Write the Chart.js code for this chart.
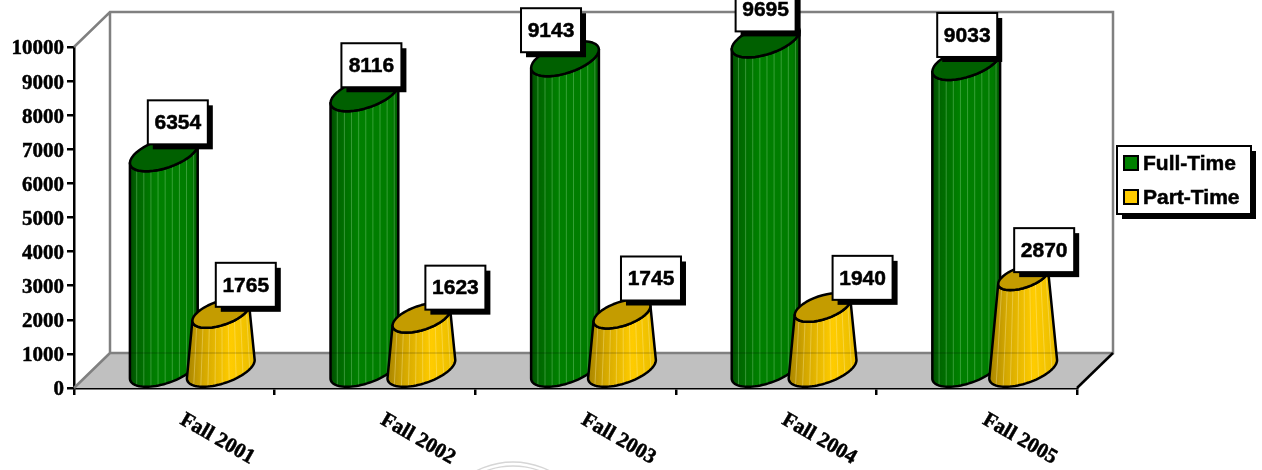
<!DOCTYPE html>
<html>
<head>
<meta charset="utf-8">
<title>Enrollment</title>
<script src="https://cdn.jsdelivr.net/npm/chart.js@4"></script>
<style>
  html, body { margin: 0; padding: 0; background: #fff; overflow: hidden; }
  canvas { display: block; }
</style>
</head>
<body>
<canvas id="myChart" width="1262" height="470"></canvas>
<script>
const categories = ["Fall 2001", "Fall 2002", "Fall 2003", "Fall 2004", "Fall 2005"];
const fullTime = [6354, 8116, 9143, 9695, 9033];
const partTime = [1765, 1623, 1745, 1940, 2870];

// the value boxes were moved by hand in the original, offsets from the bar top
const fullLabelDx = [14, 7, -14, 0, 1];
const fullLabelDy = [-49, -46, -46, -48, -45];
const partLabelDx = [25, 34, 29, 40, 21];
const partLabelDy = [-43, -45, -50, -44, -40];

const depth = 36;
const sansBold = "bold 21px 'Liberation Sans', Arial, sans-serif";
const serifBold = "bold 21px 'Liberation Serif', 'Times New Roman', serif";

function ellipsePoint(cx, cy, r, t) {
    return [cx + r * Math.cos(t), cy - 0.27 * r * Math.cos(t) + 0.44 * r * Math.sin(t)];
}

function ellipseArc(path, cx, cy, r, from, to) {
    for (let i = 0; i <= 40; i++) {
        let p = ellipsePoint(cx, cy, r, from + (to - from) * i / 40);
        path.lineTo(p[0], p[1]);
    }
}

function heavyText(ctx, text, x, y) {
    ctx.fillText(text, x, y);
    ctx.lineWidth = 0.5;
    ctx.strokeStyle = "#000";
    ctx.strokeText(text, x, y);
}

function drawCylinder(ctx, cx, yTop, yBase, rBase, rTop, colors, floorY) {
    let cyTop = yTop - rTop * 0.516;
    let cyBase = yBase - rBase * 0.516;

    let body = new Path2D();
    ellipseArc(body, cx, cyTop, rTop, Math.PI, 0);
    ellipseArc(body, cx, cyBase, rBase, 0, Math.PI);
    body.closePath();

    ctx.save();
    let grad = ctx.createLinearGradient(cx - rBase, 0, cx + rBase, 0);
    colors.stops.forEach(s => grad.addColorStop(s[0], s[1]));
    ctx.fillStyle = grad;
    ctx.fill(body);

    // thin ribs running up the body
    ctx.save();
    ctx.clip(body);
    ctx.strokeStyle = colors.rib;
    ctx.lineWidth = 0.8;
    for (let f = -0.8; f < 1; f += 0.21) {
        ctx.beginPath();
        ctx.moveTo(cx + f * rBase, yBase);
        ctx.lineTo(cx + f * rTop, yTop - 30);
        ctx.stroke();
    }
    // the back edge of the floor shows faintly through the bar
    ctx.strokeStyle = "rgba(0,0,0,0.12)";
    ctx.lineWidth = 2;
    ctx.beginPath();
    ctx.moveTo(cx - rBase, floorY);
    ctx.lineTo(cx + rBase, floorY);
    ctx.stroke();
    ctx.restore();

    ctx.strokeStyle = "#000";
    ctx.lineWidth = 2.5;
    ctx.lineJoin = "round";
    ctx.stroke(body);

    let lid = new Path2D();
    ellipseArc(lid, cx, cyTop, rTop, 0, Math.PI * 2);
    lid.closePath();
    ctx.fillStyle = colors.top;
    ctx.fill(lid);
    ctx.stroke(lid);
    ctx.restore();
}

function drawBox(ctx, x, y, w, h) {
    ctx.fillStyle = "#000";
    ctx.fillRect(x + 5, y + 5, w, h);
    ctx.fillStyle = "#fff";
    ctx.fillRect(x, y, w, h);
    ctx.strokeStyle = "#000";
    ctx.lineWidth = 2;
    ctx.strokeRect(x, y, w, h);
}

const greenColors = {
    stops: [[0, "#004a00"], [0.1, "#006600"], [0.4, "#008000"], [0.9, "#007c00"], [1, "#005a00"]],
    rib: "rgba(150,220,150,0.45)",
    top: "#006000"
};
const yellowColors = {
    stops: [[0, "#a88400"], [0.25, "#d4a800"], [0.65, "#ffcc00"], [1, "#e8bc00"]],
    rib: "rgba(255,240,170,0.45)",
    top: "#c49c00"
};

const cylinders = {
    id: "cylinders",
    beforeDatasetsDraw(chart) {
        const ctx = chart.ctx;
        const a = chart.chartArea;

        // back wall and floor
        ctx.save();
        ctx.beginPath();
        ctx.moveTo(a.left, a.bottom);
        ctx.lineTo(a.left + depth, a.bottom - depth + 1);
        ctx.lineTo(a.right + depth, a.bottom - depth + 1);
        ctx.lineTo(a.right, a.bottom);
        ctx.closePath();
        ctx.fillStyle = "#c0c0c0";
        ctx.fill();

        ctx.strokeStyle = "#808080";
        ctx.lineWidth = 2.5;
        ctx.beginPath();
        ctx.moveTo(a.left, a.top);
        ctx.lineTo(a.left + depth, a.top - depth + 1);
        ctx.lineTo(a.right + depth, a.top - depth + 1);
        ctx.lineTo(a.right + depth, a.bottom - depth + 1);
        ctx.lineTo(a.left + depth, a.bottom - depth + 1);
        ctx.lineTo(a.left + depth, a.top - depth + 1);
        ctx.moveTo(a.left + depth, a.bottom - depth + 1);
        ctx.lineTo(a.left, a.bottom);
        ctx.stroke();

        ctx.strokeStyle = "#000";
        ctx.beginPath();
        ctx.moveTo(a.right, a.bottom);
        ctx.lineTo(a.right + depth, a.bottom - depth + 1);
        ctx.stroke();
        ctx.restore();

        // full-time first, part-time sits in front of it
        chart.data.datasets.forEach((ds, di) => {
            const meta = chart.getDatasetMeta(di);
            meta.data.forEach((bar, i) => {
                let rBase = bar.width / 2;
                let rTop = di == 0 ? rBase : rBase * (1 - ds.data[i] / 10900);
                drawCylinder(ctx, bar.x + depth / 2, bar.y, bar.base, rBase, rTop, di == 0 ? greenColors : yellowColors, a.bottom - depth + 1);
            });
        });
    },
    beforeDatasetDraw() {
        return false;
    },
    afterDatasetsDraw(chart) {
        const ctx = chart.ctx;
        ctx.save();

        // value boxes
        ctx.font = sansBold;
        ctx.textAlign = "center";
        ctx.textBaseline = "middle";
        chart.data.datasets.forEach((ds, di) => {
            const dxs = di == 0 ? fullLabelDx : partLabelDx;
            const dys = di == 0 ? fullLabelDy : partLabelDy;
            chart.getDatasetMeta(di).data.forEach((bar, i) => {
                let x = bar.x + depth / 2 + dxs[i];
                let y = bar.y + dys[i];
                drawBox(ctx, x - 30, y - 22, 60, 44);
                ctx.fillStyle = "#000";
                heavyText(ctx, String(ds.data[i]), x, y + 1);
            });
        });

        // category labels slope down to the right
        const xs = chart.scales.x;
        ctx.font = serifBold;
        ctx.fillStyle = "#000";
        categories.forEach((c, i) => {
            ctx.save();
            ctx.translate(xs.getPixelForTick(i) + 43, chart.chartArea.bottom + 51);
            ctx.rotate(30 * Math.PI / 180);
            heavyText(ctx, c, 0, 0);
            ctx.restore();
        });

        // legend
        drawBox(ctx, 1117, 146, 134, 68);
        ctx.font = sansBold;
        ctx.textAlign = "left";
        chart.data.datasets.forEach((ds, di) => {
            let y = 156 + di * 34;
            ctx.fillStyle = ds.backgroundColor;
            ctx.fillRect(1124, y, 14, 14);
            ctx.strokeStyle = "#000";
            ctx.lineWidth = 2;
            ctx.strokeRect(1124, y, 14, 14);
            ctx.fillStyle = "#000";
            heavyText(ctx, ds.label, 1143, y + 8);
        });

        // edge of the seal under the chart
        ctx.strokeStyle = "#d6d6d6";
        ctx.lineWidth = 1.5;
        [80, 76].forEach(r => {
            ctx.beginPath();
            ctx.arc(513, 542, r, 0, Math.PI * 2);
            ctx.stroke();
        });
        ctx.restore();
    }
};

new Chart(document.getElementById("myChart"), {
    type: "bar",
    data: {
        labels: categories,
        datasets: [
            { label: "Full-Time", data: fullTime, backgroundColor: "#008000" },
            { label: "Part-Time", data: partTime, backgroundColor: "#ffcc00" }
        ]
    },
    options: {
        responsive: false,
        animation: false,
        categoryPercentage: 0.568,
        barPercentage: 1.19,
        layout: { padding: { top: 47, right: 185, left: 0, bottom: 0 } },
        plugins: {
            legend: { display: false },
            tooltip: { enabled: false }
        },
        scales: {
            x: {
                afterFit(s) { s.height = 82; },
                ticks: { display: false },
                grid: { drawOnChartArea: false, color: "#000", lineWidth: 2.5, tickLength: 7 },
                border: { color: "#000", width: 2.5 }
            },
            y: {
                min: 0,
                max: 10000,
                afterFit(s) { s.width = 74; },
                ticks: {
                    stepSize: 1000,
                    padding: 3,
                    labelOffset: 2,
                    color: "#000",
                    textStrokeColor: "#000",
                    textStrokeWidth: 0.5,
                    font: { family: "'Liberation Serif'", size: 21, weight: "bold" },
                    callback: v => String(v)
                },
                grid: { drawOnChartArea: false, color: "#000", lineWidth: 2.5, tickLength: 7 },
                border: { color: "#000", width: 2.5 }
            }
        }
    },
    plugins: [cylinders]
});
</script>
</body>
</html>
